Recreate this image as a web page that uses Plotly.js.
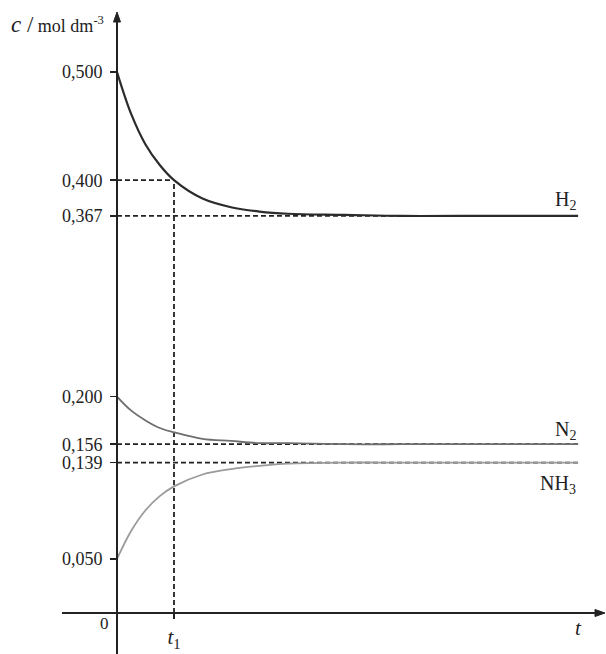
<!DOCTYPE html>
<html>
<head>
<meta charset="utf-8">
<script src="https://cdn.plot.ly/plotly-3.0.1.min.js"></script>
<style>html,body{margin:0;padding:0;background:#fff;}#chart{width:606px;height:654px;}</style>
</head>
<body>
<div id="chart"></div>
<script>
// time samples (t1 = 1)
var t = [0, 0.25, 0.5, 0.75, 1, 1.5, 2, 2.5, 3, 4, 5, 6, 8.09];
// concentrations (mol dm^-3)
var h2  = [0.500, 0.461, 0.433, 0.414, 0.400, 0.383, 0.375, 0.371, 0.369, 0.368, 0.367, 0.367, 0.367];
var n2  = [0.200, 0.187, 0.178, 0.171, 0.167, 0.161, 0.159, 0.157, 0.157, 0.156, 0.156, 0.156, 0.156];
var nh3 = [0.050, 0.076, 0.095, 0.108, 0.117, 0.128, 0.133, 0.136, 0.138, 0.139, 0.139, 0.139, 0.139];
var seriesNames = ['H<sub>2</sub>', 'N<sub>2</sub>', 'NH<sub>3</sub>'];
var eqValues = [0.367, 0.156, 0.139];
var t1 = 1, tEnd = 8.09, cAtT1 = 0.400;
var yTickVals = [0.050, 0.139, 0.156, 0.200, 0.367, 0.400, 0.500];
var yTickText = ['0,050', '0,139', '0,156', '0,200', '0,367', '0,400', '0,500'];
var xTickVals = [1];
var xTickText = ['<i>t</i><sub>1</sub>'];

var serif = 'Liberation Serif, DejaVu Serif, serif';
var ink = '#222';
var dash = {color: ink, width: 1.8, dash: '5px,3px'};

function dashed(x, y) {
  return {x: x, y: y, type: 'scatter', mode: 'lines', line: dash, hoverinfo: 'skip', showlegend: false};
}

var traces = [
  dashed([0, t1], [cAtT1, cAtT1]),
  dashed([t1, t1], [0, cAtT1]),
  dashed([0, tEnd], [eqValues[0], eqValues[0]]),
  dashed([0, tEnd], [eqValues[1], eqValues[1]]),
  dashed([0, tEnd], [eqValues[2], eqValues[2]]),
  {x: t, y: h2, type: 'scatter', mode: 'lines', line: {color: '#2b2b2b', width: 2.2, shape: 'spline', smoothing: 1}, showlegend: false},
  {x: t, y: n2, type: 'scatter', mode: 'lines', line: {color: '#6e6e6e', width: 1.8, shape: 'spline', smoothing: 1}, showlegend: false},
  {x: t, y: nh3, type: 'scatter', mode: 'lines', line: {color: '#9a9a9a', width: 1.8, shape: 'spline', smoothing: 1}, showlegend: false}
];

var W = 489, H = 601;
function px(p) { return (p - 117) / W; }
function py(p) { return (613 - p) / H; }

var shapes = [
  {type: 'line', xref: 'paper', yref: 'paper', x0: 0, x1: 0, y0: py(18), y1: py(654), line: {color: ink, width: 2}},
  {type: 'line', xref: 'paper', yref: 'paper', x0: px(62), x1: px(598), y0: 0, y1: 0, line: {color: ink, width: 2}},
  {type: 'path', xref: 'paper', yref: 'paper', fillcolor: ink, line: {color: ink, width: 1},
   path: 'M ' + px(117) + ' ' + py(12) + ' L ' + px(113.5) + ' ' + py(22) + ' L ' + px(120.5) + ' ' + py(22) + ' Z'},
  {type: 'path', xref: 'paper', yref: 'paper', fillcolor: ink, line: {color: ink, width: 1},
   path: 'M ' + px(605) + ' ' + py(613) + ' L ' + px(595) + ' ' + py(609.5) + ' L ' + px(595) + ' ' + py(616.5) + ' Z'}
];

var labelY = [0.381, 0.169, 0.119];
var annotations = [
  {xref: 'paper', yref: 'paper', x: px(106), y: py(25), xanchor: 'right', yanchor: 'middle', showarrow: false,
   text: '<span style="font-size:23px"><i>c</i> /</span> mol dm<sup>-3</sup>', font: {family: serif, size: 18, color: ink}},
  {xref: 'paper', yref: 'paper', x: px(111), y: py(623), xanchor: 'right', yanchor: 'middle', showarrow: false,
   text: '0', font: {family: serif, size: 17, color: ink}},
  {xref: 'paper', yref: 'paper', x: px(578), y: py(628), xanchor: 'center', yanchor: 'middle', showarrow: false,
   text: '<i>t</i>', font: {family: serif, size: 21, color: ink}}
];
for (var i = 0; i < seriesNames.length; i++) {
  annotations.push({x: tEnd, y: labelY[i], xref: 'x', yref: 'y', xanchor: 'right', yanchor: 'middle', showarrow: false,
    text: seriesNames[i], font: {family: serif, size: 20, color: ink}});
}

var layout = {
  width: 606, height: 654,
  margin: {l: 117, r: 0, t: 12, b: 41, pad: 0},
  paper_bgcolor: '#fff', plot_bgcolor: '#fff',
  showlegend: false,
  xaxis: {range: [0, W / 57], showgrid: false, zeroline: false, showline: false,
    tickmode: 'array', tickvals: xTickVals, ticktext: xTickText, ticks: 'outside', ticklen: 5, tickwidth: 1.5, tickcolor: ink,
    tickfont: {family: serif, size: 21, color: ink}},
  yaxis: {range: [0, H / 1082], showgrid: false, zeroline: false, showline: false,
    tickmode: 'array', tickvals: yTickVals, ticktext: yTickText, ticks: 'outside', ticklen: 6, tickwidth: 1.5, tickcolor: ink,
    ticklabelstandoff: 4, tickfont: {family: serif, size: 18, color: ink}},
  shapes: shapes,
  annotations: annotations
};

Plotly.newPlot('chart', traces, layout, {displayModeBar: false, staticPlot: true});
</script>
</body>
</html>
